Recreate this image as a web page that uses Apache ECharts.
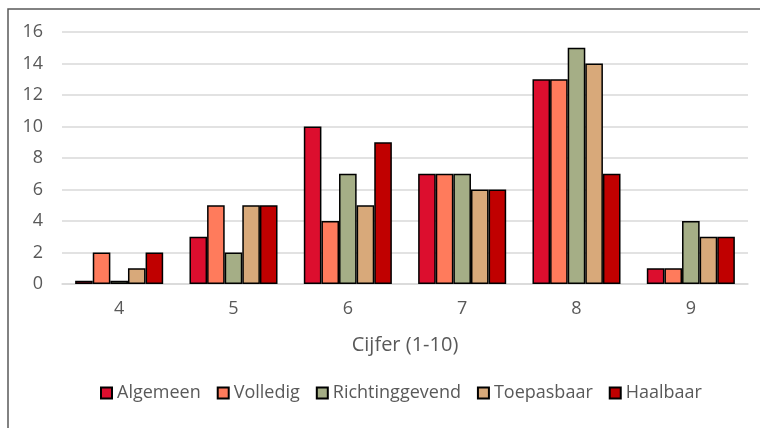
<!DOCTYPE html>
<html><head><meta charset="utf-8">
<script src="https://cdn.jsdelivr.net/npm/echarts@6/dist/echarts.min.js"></script>
<style>html,body{margin:0;padding:0;background:#fff}#c{width:760px;height:428px}</style>
</head><body><div id="c"></div>
<script>
const categories = ['4','5','6','7','8','9'];
const seriesNames = ['Algemeen','Volledig','Richtinggevend','Toepasbaar','Haalbaar'];
const algemeen = [0.2,3,10,7,13,1];
const volledig = [2,5,4,7,13,1];
const richtinggevend = [0.2,2,7,7,15,4];
const toepasbaar = [1,5,5,6,14,3];
const haalbaar = [2,5,9,6,7,3];
const yTicks = [0,2,4,6,8,10,12,14,16];
const colors = ['#DC0E2E','#FF7B5C','#A5AE86','#D8A97A','#C00000'];
const values = [algemeen, volledig, richtinggevend, toepasbaar, haalbaar];
const font = '"Open Sans", "Noto Sans", sans-serif';
const chart = echarts.init(document.getElementById('c'));
chart.setOption({
  animation:false,
  textStyle:{fontFamily:font},
  graphic:[{type:'rect',shape:{x:8,y:9,width:800,height:500},style:{fill:'none',stroke:'#595959',lineWidth:1.5},silent:true}],
  grid:{left:62,right:12,top:32,bottom:144},
  legend:{data:seriesNames,top:379,left:95,itemWidth:11,itemHeight:11,itemGap:16,icon:'rect',
    textStyle:{color:'#595959',fontSize:18,fontFamily:font,padding:[0,0,0,0]}},
  xAxis:{type:'category',data:categories,name:'Cijfer (1-10)',nameLocation:'middle',nameGap:51,
    nameTextStyle:{color:'#595959',fontSize:20,fontFamily:font},
    axisLine:{lineStyle:{color:'#d9d9d9',width:1.5}},axisTick:{show:false},
    axisLabel:{color:'#595959',fontSize:18,margin:16}},
  yAxis:{type:'value',min:0,max:16,interval:2,
    axisLine:{show:false},axisTick:{show:false},
    axisLabel:{color:'#595959',fontSize:18,margin:19,formatter:v=>yTicks.includes(v)?String(v):''},
    splitLine:{lineStyle:{color:'#d9d9d9',width:1.5}}},
  series: seriesNames.map((n,i)=>({name:n,type:'bar',data:values[i],barGap:'0%',barCategoryGap:'23%',
    itemStyle:{color:colors[i],borderColor:'#000',borderWidth:1.5}}))
});
</script></body></html>
